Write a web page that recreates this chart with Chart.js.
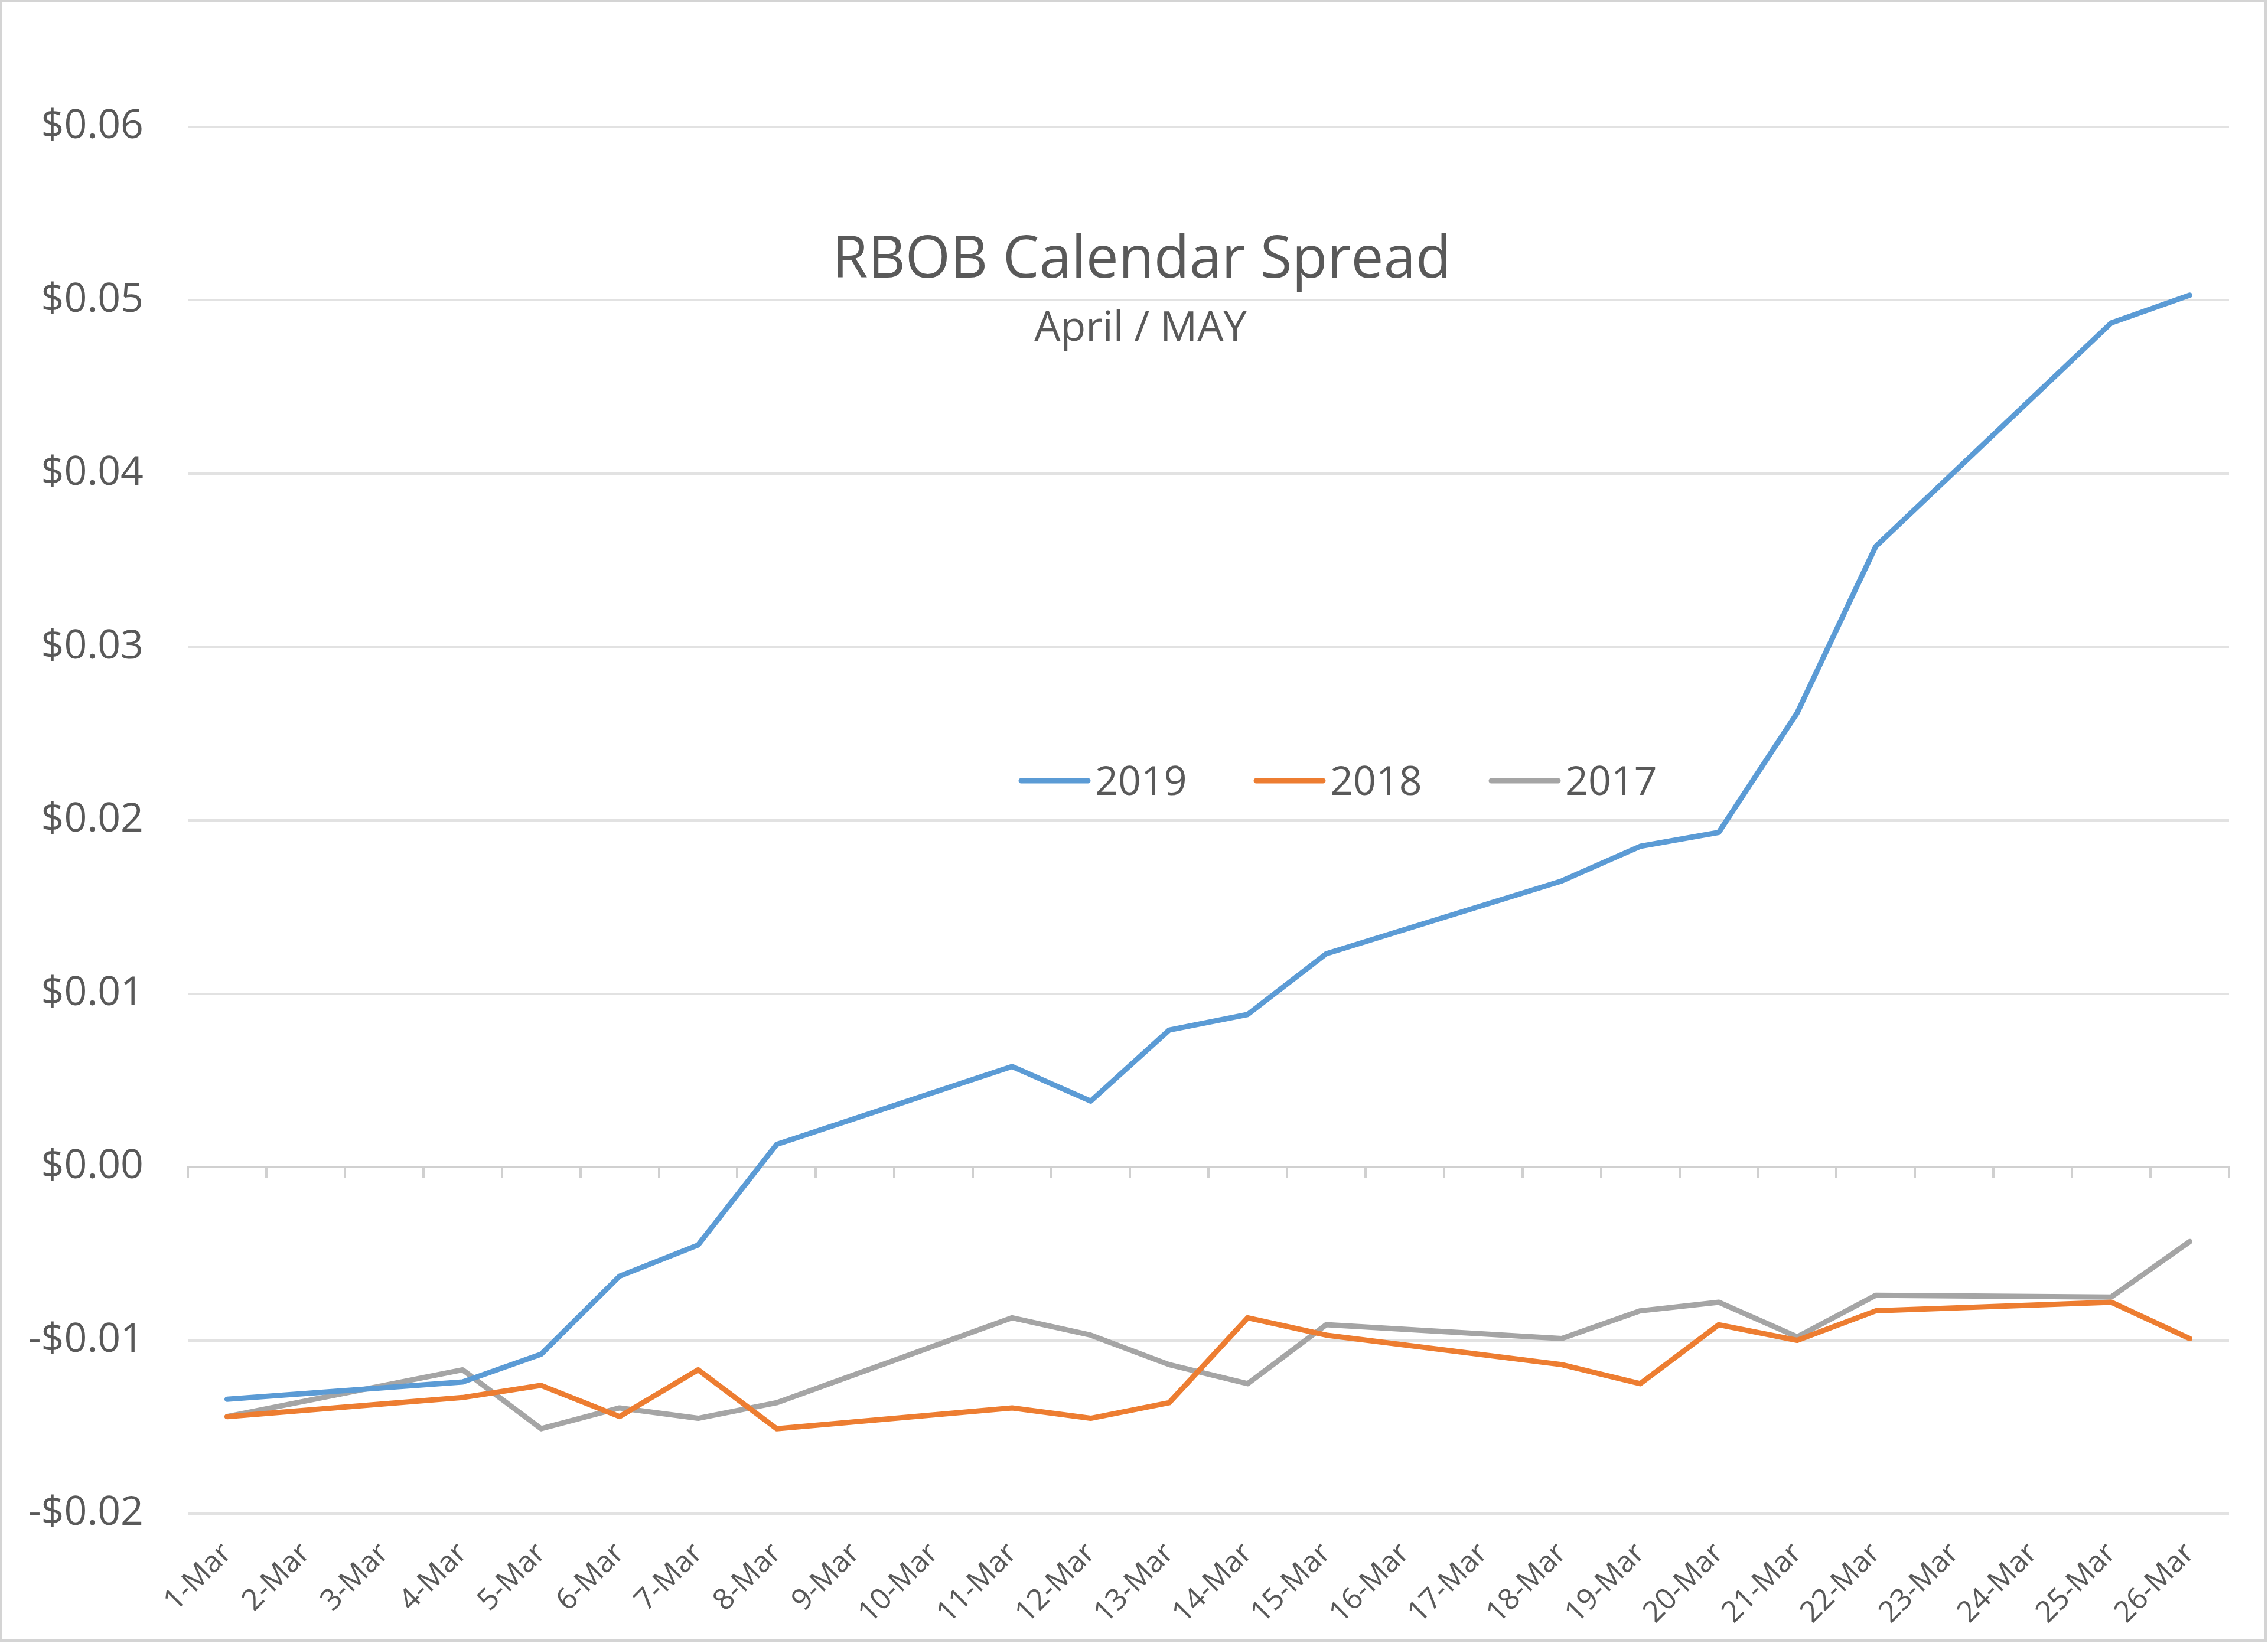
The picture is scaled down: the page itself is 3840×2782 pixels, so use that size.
<!DOCTYPE html>
<html>
<head>
    <title>RBOB Calendar Spread</title>
    <script src="https://cdn.jsdelivr.net/npm/chart.js"></script>
    <style>
        body {
            margin: 0;
            background: #ffffff;
            font-family: "Open Sans", Arial, sans-serif;
        }
        #wrap {
            position: relative;
            width: 3840px;
            height: 2782px;
        }
        #frame {
            position: absolute;
            left: 0;
            top: 0;
            width: 3838px;
            height: 2780px;
            box-sizing: border-box;
            border: 4px solid #d4d4d4;
            pointer-events: none;
        }
        canvas {
            display: block;
        }
    </style>
</head>
<body>
    <div id="wrap">
        <canvas id="myChart" width="3840" height="2782"></canvas>
        <div id="frame"></div>
    </div>

    <script>
        const days = ['1-Mar', '2-Mar', '3-Mar', '4-Mar', '5-Mar', '6-Mar', '7-Mar', '8-Mar', '9-Mar',
            '10-Mar', '11-Mar', '12-Mar', '13-Mar', '14-Mar', '15-Mar', '16-Mar', '17-Mar', '18-Mar',
            '19-Mar', '20-Mar', '21-Mar', '22-Mar', '23-Mar', '24-Mar', '25-Mar', '26-Mar'];

        // weekends have no settlement, the line just spans them
        const spread2019 = [-0.0134, null, null, -0.0124, -0.0108, -0.0063, -0.0045, 0.0013, null, null,
            0.0058, 0.0038, 0.0079, 0.0088, 0.0123, null, null, 0.0165, 0.0185, 0.0193,
            0.0262, 0.0358, null, null, 0.0487, 0.0503];
        const spread2018 = [-0.0144, null, null, -0.0133, -0.0126, -0.0144, -0.0117, -0.0151, null, null,
            -0.0139, -0.0145, -0.0136, -0.0087, -0.0097, null, null, -0.0114, -0.0125, -0.0091,
            -0.0100, -0.0083, null, null, -0.0078, -0.0099];
        const spread2017 = [-0.0144, null, null, -0.0117, -0.0151, -0.0139, -0.0145, -0.0136, null, null,
            -0.0087, -0.0097, -0.0114, -0.0125, -0.0091, null, null, -0.0099, -0.0083, -0.0078,
            -0.0098, -0.0074, null, null, -0.0075, -0.0043];

        const seriesNames = ['2019', '2018', '2017'];
        const yTicks = [-0.02, -0.01, 0.00, 0.01, 0.02, 0.03, 0.04, 0.05, 0.06];

        const titleText = 'RBOB Calendar Spread';
        const subtitleText = 'April / MAY';

        const textColor = '#595959';
        const fontName = '"Open Sans", Arial, sans-serif';

        function money(v) {
            const r = Math.round(v * 100) / 100;
            if (r < 0) return '-$' + Math.abs(r).toFixed(2);
            return '$' + Math.abs(r).toFixed(2);
        }

        // title, subtitle and the legend sit inside the plot area
        const overlayText = {
            id: 'overlayText',
            afterDraw(chart) {
                const ctx = chart.ctx;
                ctx.save();
                ctx.fillStyle = textColor;
                ctx.textAlign = 'center';
                ctx.textBaseline = 'alphabetic';
                ctx.font = '98px ' + fontName;
                ctx.fillText(titleText, 1933, 470);
                ctx.font = '70px ' + fontName;
                ctx.fillText(subtitleText, 1931, 577);

                ctx.textAlign = 'left';
                ctx.font = '68px ' + fontName;
                const y = 1322;
                chart.data.datasets.forEach(function (ds, i) {
                    const x = 1729 + i * 398;
                    ctx.strokeStyle = ds.borderColor;
                    ctx.lineWidth = 9;
                    ctx.lineCap = 'round';
                    ctx.beginPath();
                    ctx.moveTo(x, y);
                    ctx.lineTo(x + 113, y);
                    ctx.stroke();
                    ctx.fillStyle = textColor;
                    ctx.fillText(ds.label, x + 125, y + 24);
                });
                ctx.restore();
            }
        };

        const ctx = document.getElementById('myChart').getContext('2d');
        new Chart(ctx, {
            type: 'line',
            data: {
                labels: days,
                datasets: [
                    { label: seriesNames[0], data: spread2019, borderColor: '#5B9BD5' },
                    { label: seriesNames[1], data: spread2018, borderColor: '#ED7D31' },
                    { label: seriesNames[2], data: spread2017, borderColor: '#A5A5A5' }
                ]
            },
            options: {
                responsive: false,
                animation: false,
                devicePixelRatio: 1,
                spanGaps: true,
                layout: {
                    padding: { top: 215, right: 66, bottom: 0, left: 0 }
                },
                elements: {
                    point: { radius: 0 },
                    line: { borderWidth: 9, tension: 0, borderJoinStyle: 'round', borderCapStyle: 'round' }
                },
                plugins: {
                    legend: { display: false },
                    title: { display: false },
                    tooltip: { enabled: false }
                },
                scales: {
                    x: {
                        type: 'category',
                        position: 'bottom',
                        offset: true,
                        grid: { display: false, drawTicks: false },
                        border: { display: false },
                        ticks: {
                            autoSkip: false,
                            minRotation: 45,
                            maxRotation: 45,
                            padding: 38,
                            color: textColor,
                            font: { family: fontName, size: 50 }
                        },
                        afterFit(scale) { scale.height = 219; }
                    },
                    xZero: {
                        type: 'category',
                        labels: days,
                        position: { y: 0 },
                        offset: true,
                        grid: {
                            offset: true,
                            drawOnChartArea: false,
                            drawTicks: true,
                            tickLength: 16,
                            color: '#d0d0d0',
                            lineWidth: 4
                        },
                        border: { display: true, color: '#d0d0d0', width: 4 },
                        ticks: { display: false }
                    },
                    y: {
                        min: -0.02,
                        max: 0.06,
                        afterBuildTicks(scale) {
                            scale.ticks = yTicks.map(v => ({ value: v }));
                        },
                        grid: { color: '#e2e2e2', lineWidth: 4, drawTicks: false },
                        border: { display: false },
                        ticks: {
                            padding: 75,
                            color: textColor,
                            font: { family: fontName, size: 68 },
                            callback: function (value) { return money(value); }
                        },
                        afterFit(scale) { scale.width = 318; }
                    }
                }
            },
            plugins: [overlayText]
        });
    </script>
</body>
</html>
